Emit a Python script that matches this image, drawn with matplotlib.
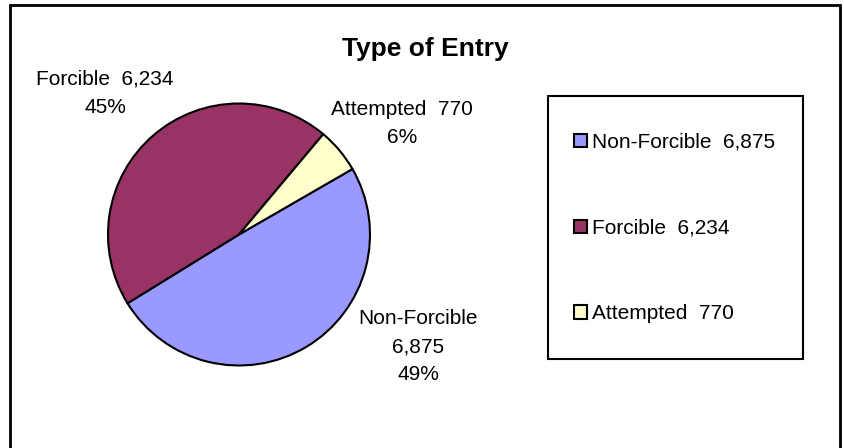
import matplotlib.pyplot as plt
from matplotlib.patches import Rectangle, Patch

plt.rcParams['font.family'] = ['Liberation Sans', 'DejaVu Sans']

# datos
categorias = ['Non-Forcible', 'Forcible', 'Attempted']
valores = [6875, 6234, 770]
porcentajes = [49, 45, 6]
colores = ['#9999FF', '#993366', '#FFFFCC']

fig = plt.figure(figsize=(8.44, 4.48), dpi=100)

# marco exterior del grafico
fig.patches.append(Rectangle((10 / 844, -0.05), 830 / 844, 1.05 - 5 / 448,
                             transform=fig.transFigure, fill=False,
                             edgecolor='black', linewidth=2))

ax = fig.add_axes([108 / 844, 82.5 / 448, 262 / 844, 262 / 448])
ax.pie(valores, colors=colores, startangle=30, counterclock=False,
       wedgeprops=dict(edgecolor='black', linewidth=1.5))
ax.set_xlim(-1, 1)
ax.set_ylim(-1, 1)
ax.set_aspect('equal')

# etiquetas de datos
etiquetas = [
    f'{categorias[0]}\n{valores[0]:,}\n{porcentajes[0]}%',
    f'{categorias[1]}  {valores[1]:,}\n{porcentajes[1]}%',
    f'{categorias[2]}  {valores[2]:,}\n{porcentajes[2]}%',
]
posiciones = [(1.37, -0.855), (-1.023, 1.08), (1.244, 0.844)]
for texto, (x, y) in zip(etiquetas, posiciones):
    ax.text(x, y, texto, ha='center', va='center', fontsize=15,
            linespacing=1.6, clip_on=False)

fig.text(425 / 844, 1 - 49 / 448, 'Type of Entry', ha='center', va='center',
         fontsize=19, fontweight='bold')

# leyenda
fig.patches.append(Rectangle((548 / 844, 1 - 359 / 448), 255 / 844, 263 / 448,
                             transform=fig.transFigure, fill=False,
                             edgecolor='black', linewidth=1.5))
handles = [Patch(facecolor=c, edgecolor='black', linewidth=1.5) for c in colores]
textos = [f'{c}  {v:,}' for c, v in zip(categorias, valores)]
fig.legend(handles, textos, loc='upper left',
           bbox_to_anchor=(574 / 844, 1 - 133 / 448), frameon=False,
           fontsize=15, labelspacing=3.2, handlelength=0.62, handleheight=0.62,
           handletextpad=0.24, borderpad=0, borderaxespad=0)

fig.savefig('out.png', dpi=100)
